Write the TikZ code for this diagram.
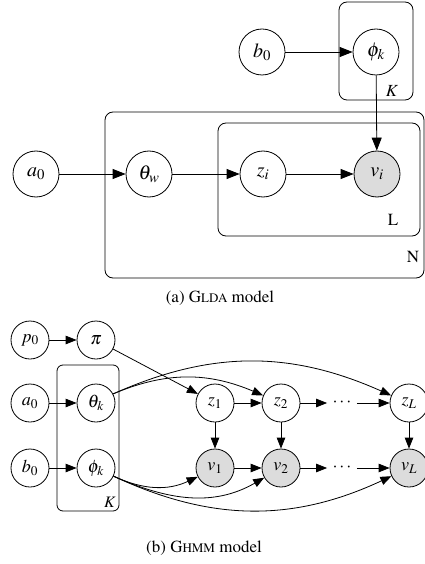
\documentclass[tikz,border=0pt]{standalone}
\usepackage[T1]{fontenc}
\usepackage{mathptmx}
\usetikzlibrary{arrows.meta}
\definecolor{obsgray}{HTML}{DCDCDC}
\newcommand{\mysc}[1]{{\fontsize{13}{15}\selectfont #1}}
\begin{document}
\begin{tikzpicture}[x=1pt,y=-1pt,
  big/.style={circle,draw,minimum size=46pt,inner sep=0pt,font=\fontsize{20}{24}\selectfont},
  sml/.style={circle,draw,minimum size=38pt,inner sep=0pt,font=\fontsize{18}{22}\selectfont},
  obs/.style={fill=obsgray},
  plate/.style={draw,rounded corners=8pt},
  splate/.style={draw,rounded corners=6pt},
  lbl/.style={inner sep=0pt,font=\fontsize{17}{20}\selectfont},
  slbl/.style={inner sep=0pt,font=\fontsize{16}{19}\selectfont},
  captxt/.style={inner sep=0pt,font=\fontsize{17}{20}\selectfont},
  arr/.style={-{Triangle[length=13pt,width=10pt]}},
  arrs/.style={-{Triangle[length=11pt,width=8.5pt]}},
  line width=0.8pt]
\useasboundingbox (0,0) rectangle (425,564);
% ---------- (a) GLDA ----------
\draw[plate] (339,2) rectangle (413,100);
\draw[plate] (105,112) rectangle (424,278);
\draw[plate] (218,123) rectangle (420,236);
\node[lbl] (labK) at (392,91) {$K$};
\node[lbl] (labL) at (393,220) {L};
\node[lbl] (labN) at (413,257) {N};
\node[big] (b0) at (262,52) {$b_0$};
\node[big] (phik) at (376,52) {$\phi_k$};
\node[big] (a0) at (36,174) {$a_0$};
\node[big] (thw) at (149,174) {$\theta_w$};
\node[big] (zi) at (263,174) {$z_i$};
\node[big,obs] (vi) at (377,174) {$v_i$};
\draw[arr] (b0) -- (phik);
\draw[arr] (phik) -- (vi);
\draw[arr] (a0) -- (thw);
\draw[arr] (thw) -- (zi);
\draw[arr] (zi) -- (vi);
\node[captxt] (capa) at (220,298) {(a) G\mysc{LDA} model};
% ---------- (b) GHMM ----------
\draw[splate] (57,365) rectangle (119,511);
\node[slbl] (labKb) at (110,502) {$K$};
\node[sml] (p0) at (30,340) {$p_0$};
\node[sml] (pi) at (96,340) {$\pi$};
\node[sml] (a0b) at (30,403) {$a_0$};
\node[sml] (thk) at (96,403) {$\theta_k$};
\node[sml] (b0b) at (30,468) {$b_0$};
\node[sml] (phb) at (96,468) {$\phi_k$};
\node[sml] (z1) at (215,403) {$z_1$};
\node[sml] (z2) at (281,403) {$z_2$};
\node[sml] (zL) at (409,403) {$z_L$};
\node[sml,obs] (v1) at (215,468) {$v_1$};
\node[sml,obs] (v2) at (281,468) {$v_2$};
\node[sml,obs] (vL) at (409,468) {$v_L$};
\node[inner sep=5pt,font=\fontsize{18}{22}\selectfont] (dz) at (342,403) {$\cdots$};
\node[inner sep=5pt,font=\fontsize{18}{22}\selectfont] (dv) at (342,468) {$\cdots$};
\draw[arrs] (p0) -- (pi);
\draw[arrs] (a0b) -- (thk);
\draw[arrs] (b0b) -- (phb);
\draw[arrs] (pi) -- (z1);
\draw[arrs] (z1) -- (z2);
\draw[arrs] (z2) -- (dz);
\draw[arrs] (dz) -- (zL);
\draw[arrs] (v1) -- (v2);
\draw[arrs] (v2) -- (dv);
\draw[arrs] (dv) -- (vL);
\draw[arrs] (z1) -- (v1);
\draw[arrs] (z2) -- (v2);
\draw[arrs] (zL) -- (vL);
\draw[arrs] (thk.28) to[out=23,in=157] (z2.157);
\draw[arrs] (thk.28) to[out=24,in=156] (zL.157);
\draw[arrs] (phb.-25) to[out=-25,in=205] (v1.207);
\draw[arrs] (phb.-25) to[out=-24,in=210] (v2.210);
\draw[arrs] (phb.-25) to[out=-25,in=205] (vL.205);
\node[captxt] (capb) at (204,548) {(b) G\mysc{HMM} model};
\end{tikzpicture}
\end{document}
